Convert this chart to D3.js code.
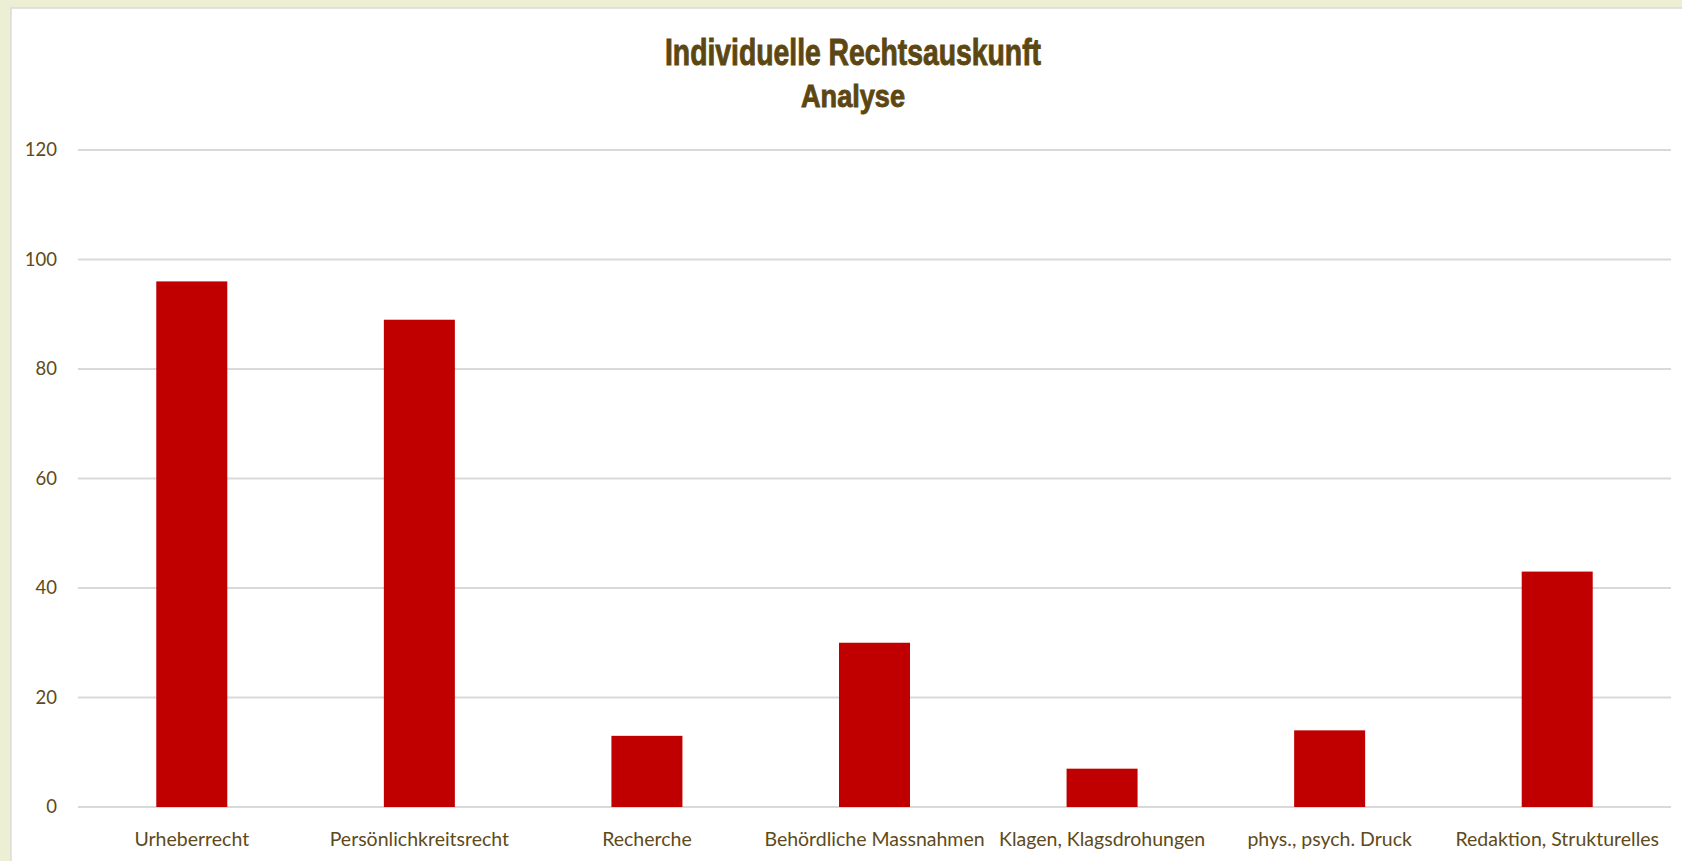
<!DOCTYPE html>
<html>
<head>
<meta charset="utf-8">
<script src="https://cdn.jsdelivr.net/npm/d3@7"></script>
<style>
  html, body { margin: 0; padding: 0; background: #ECEFD4; }
  svg { display: block; }
</style>
</head>
<body>
<svg id="chart" width="1682" height="861"></svg>
<script>
const titleLines = ["Individuelle Rechtsauskunft", "Analyse"];
const categories = ["Urheberrecht", "Persönlichkreitsrecht", "Recherche", "Behördliche Massnahmen", "Klagen, Klagsdrohungen", "phys., psych. Druck", "Redaktion, Strukturelles"];
const values = [96, 89, 13, 30, 7, 14, 43];
const yTicks = [0, 20, 40, 60, 80, 100, 120];

const W = 1682, H = 861;
const margin = { left: 78, right: 11, top: 150, bottom: 54 };
const textColor = "#5E4A1A";
const barColor = "#C00000";
const gridColor = "#D9D9D9";

const svg = d3.select("#chart");

// outer background and white panel
svg.append("rect").attr("x", 0).attr("y", 0).attr("width", W).attr("height", H).attr("fill", "#ECEFD4");
svg.append("rect").attr("x", 11).attr("y", 8).attr("width", W - 10).attr("height", H)
  .attr("fill", "#FFFFFF").attr("stroke", "#DADADA").attr("stroke-width", 1.5);

const x = d3.scaleBand().domain(categories).range([margin.left, W - margin.right]).padding(0);
const y = d3.scaleLinear().domain([0, 120]).range([H - margin.bottom, margin.top]);

// gridlines
svg.append("g").selectAll("line").data(yTicks).join("line")
  .attr("x1", margin.left).attr("x2", W - margin.right)
  .attr("y1", d => y(d)).attr("y2", d => y(d))
  .attr("stroke", gridColor).attr("stroke-width", 2);

// y axis labels
const yAxis = d3.axisLeft(y).tickValues(yTicks).tickSize(0).tickPadding(21);
const gy = svg.append("g").attr("transform", `translate(${margin.left},0)`).call(yAxis);
gy.select(".domain").remove();
gy.selectAll("text").attr("fill", textColor).style("font-family", "Lato, 'Open Sans', sans-serif").style("font-size", "18.5px");

// bars
const barW = x.bandwidth() * 0.312;
svg.append("g").selectAll("rect").data(values).join("rect")
  .attr("x", (d, i) => x(categories[i]) + x.bandwidth() / 2 - barW / 2)
  .attr("width", barW)
  .attr("y", d => y(d))
  .attr("height", d => y(0) - y(d))
  .attr("fill", barColor);

// x axis labels
const xAxis = d3.axisBottom(x).tickSize(0).tickPadding(25);
const gx = svg.append("g").attr("transform", `translate(0,${y(0)})`).call(xAxis);
gx.select(".domain").remove();
gx.selectAll("text").attr("fill", textColor).style("font-family", "Lato, 'Open Sans', sans-serif").style("font-size", "19.5px");

// title
const title = svg.append("g").attr("fill", "#5C4712").attr("stroke", "#5C4712").attr("stroke-width", 0.9)
  .style("font-family", "'Liberation Sans Narrow', 'Arial Narrow', sans-serif").style("font-weight", "bold");
title.append("text").attr("x", 853).attr("y", 65).attr("text-anchor", "middle")
  .style("font-size", "37px").attr("textLength", 376).attr("lengthAdjust", "spacingAndGlyphs")
  .text(titleLines[0]);
title.append("text").attr("x", 853).attr("y", 107).attr("text-anchor", "middle")
  .style("font-size", "32px").attr("textLength", 104).attr("lengthAdjust", "spacingAndGlyphs")
  .text(titleLines[1]);
</script>
</body>
</html>
